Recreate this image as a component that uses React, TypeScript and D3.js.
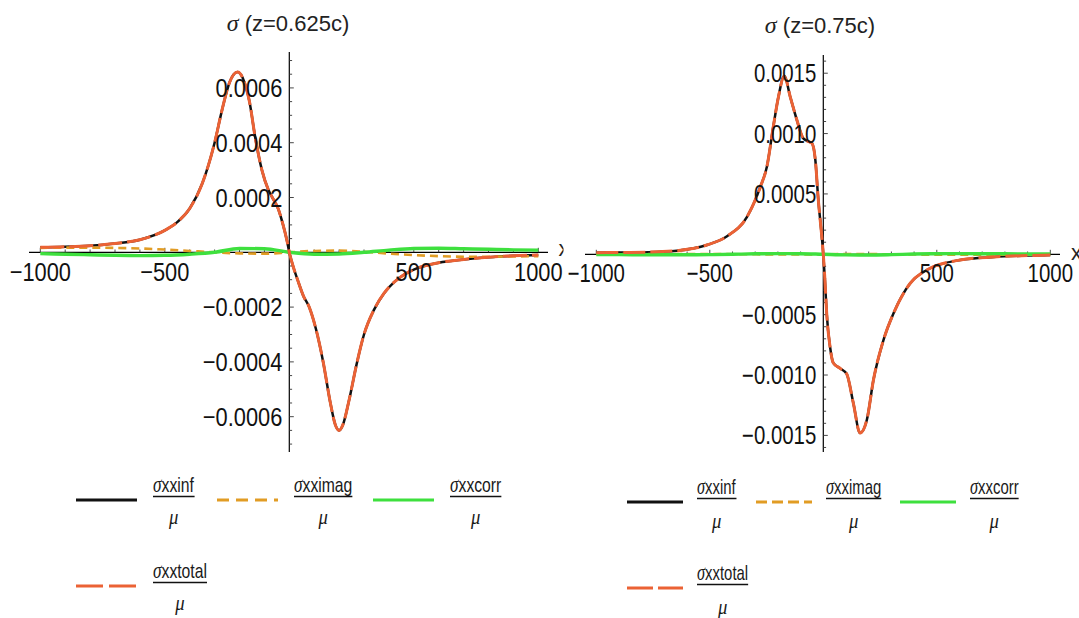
import React from 'react';
import * as d3 from 'd3';

// ---------- data ----------
const xGrid = [-1000, -900, -800, -700, -600, -500, -400, -300, -200, -100, 0, 100, 200, 300, 400, 500, 600, 700, 800, 900, 1000];

// Left panel: z = 0.625c
const xInfL = [-1000, -900, -800, -700, -600, -500, -450, -400, -350, -300, -270, -240, -208, -180, -160, -137, -110, -85, -65, -45, -25, -10, 0, 15, 35, 57, 80, 107, 136, 165, 185, 200, 215, 240, 270, 300, 340, 380, 420, 460, 500, 600, 700, 800, 900, 1000];
const infL = [1.8e-5, 2.0e-5, 2.4e-5, 3.2e-5, 4.6e-5, 8.0e-5, 1.1e-4, 1.6e-4, 2.5e-4, 4.0e-4, 5.2e-4, 6.2e-4, 6.58e-4, 6.2e-4, 5.5e-4, 4.2e-4, 3.0e-4, 2.3e-4, 1.95e-4, 1.6e-4, 1.0e-4, 4.5e-5, 0, -5e-5, -1.05e-4, -1.6e-4, -2.0e-4, -2.8e-4, -4.0e-4, -5.5e-4, -6.3e-4, -6.5e-4, -6.3e-4, -5.4e-4, -4.1e-4, -3.0e-4, -2.1e-4, -1.5e-4, -1.1e-4, -8.2e-5, -6.3e-5, -3.8e-5, -2.6e-5, -1.8e-5, -1.3e-5, -1.0e-5];
const totalL = [1.8e-5, 2.0e-5, 2.4e-5, 3.2e-5, 4.6e-5, 8.0e-5, 1.1e-4, 1.6e-4, 2.5e-4, 4.0e-4, 5.2e-4, 6.2e-4, 6.58e-4, 6.2e-4, 5.5e-4, 4.2e-4, 3.0e-4, 2.3e-4, 1.95e-4, 1.6e-4, 1.0e-4, 4.5e-5, 0, -5e-5, -1.05e-4, -1.6e-4, -2.0e-4, -2.8e-4, -4.0e-4, -5.5e-4, -6.3e-4, -6.5e-4, -6.3e-4, -5.4e-4, -4.1e-4, -3.0e-4, -2.1e-4, -1.5e-4, -1.1e-4, -8.2e-5, -6.3e-5, -3.8e-5, -2.6e-5, -1.8e-5, -1.3e-5, -1.0e-5];
const imagL = [1.6e-5, 1.7e-5, 1.7e-5, 1.6e-5, 1.4e-5, 1.0e-5, 5e-6, 0, -4e-6, -5e-6, 0, 5e-6, 6e-6, 2e-6, -5e-6, -1.0e-5, -1.4e-5, -1.6e-5, -1.6e-5, -1.5e-5, -1.4e-5];
const corrL = [-5e-6, -7e-6, -9e-6, -1.1e-5, -1.2e-5, -1.1e-5, -7e-6, 0, 1.4e-5, 1.3e-5, 0, -7e-6, -6e-6, 0, 8e-6, 1.4e-5, 1.5e-5, 1.3e-5, 1.1e-5, 9e-6, 8e-6];

// Right panel: z = 0.75c
const xInfR = [-1000, -900, -770, -645, -513, -424, -336, -277, -248, -220, -198, -172, -145, -116, -88, -60, -50, -35, -22, -8, 0, 7, 15, 30, 44, 74, 103, 132, 162, 192, 221, 265, 309, 383, 456, 603, 750, 900, 1000];
const infR = [1.3e-5, 1.5e-5, 1.8e-5, 3.0e-5, 7.7e-5, 1.5e-4, 3.1e-4, 5.6e-4, 7.3e-4, 1.06e-3, 1.3e-3, 1.477e-3, 1.3e-3, 1.11e-3, 9.6e-4, 9.3e-4, 9.2e-4, 7.8e-4, 4.5e-4, 1.75e-4, 0, -2.1e-4, -4.9e-4, -7.7e-4, -9.0e-4, -9.45e-4, -9.9e-4, -1.23e-3, -1.48e-3, -1.37e-3, -1.04e-3, -7.1e-4, -4.9e-4, -2.4e-4, -1.3e-4, -4.7e-5, -2.2e-5, -1.0e-5, -6e-6];
const totalR = [1.3e-5, 1.5e-5, 1.8e-5, 3.0e-5, 7.7e-5, 1.5e-4, 3.1e-4, 5.6e-4, 7.3e-4, 1.06e-3, 1.3e-3, 1.477e-3, 1.3e-3, 1.11e-3, 9.6e-4, 9.3e-4, 9.2e-4, 7.8e-4, 4.5e-4, 1.75e-4, 0, -2.1e-4, -4.9e-4, -7.7e-4, -9.0e-4, -9.45e-4, -9.9e-4, -1.23e-3, -1.48e-3, -1.37e-3, -1.04e-3, -7.1e-4, -4.9e-4, -2.4e-4, -1.3e-4, -4.7e-5, -2.2e-5, -1.0e-5, -6e-6];
const imagR = [3e-6, 3e-6, 3e-6, 3e-6, 3e-6, 2e-6, 1e-6, 0, -2e-6, -2e-6, 0, 2e-6, 2e-6, 0, -2e-6, -3e-6, -3e-6, -3e-6, -3e-6, -3e-6, -3e-6];
const corrR = [-2e-6, -3e-6, -4e-6, -4e-6, -4e-6, -3e-6, 0, 4e-6, 6e-6, 5e-6, 0, -5e-6, -6e-6, -3e-6, 2e-6, 5e-6, 6e-6, 5e-6, 4e-6, 3e-6, 3e-6];

// ticks & labels
const xTicks = [-1000, -500, 500, 1000];
const xTickLabels = ['\u22121000', '\u2212500', '500', '1000'];
const yTicksL = [-0.0006, -0.0004, -0.0002, 0.0002, 0.0004, 0.0006];
const yTickLabelsL = ['\u22120.0006', '\u22120.0004', '\u22120.0002', '0.0002', '0.0004', '0.0006'];
const yTicksR = [-0.0015, -0.001, -0.0005, 0.0005, 0.001, 0.0015];
const yTickLabelsR = ['\u22120.0015', '\u22120.0010', '\u22120.0005', '0.0005', '0.0010', '0.0015'];
const titlesText = ['(z=0.625c)', '(z=0.75c)'];
const legendNames = ['xxinf', 'xximag', 'xxcorr', 'xxtotal'];
const seriesColors = ['#111111', '#E19C24', '#3EE03E', '#EB6235'];

// ---------- layout ----------
const SANS = "'Liberation Sans', Arial, sans-serif";
const SERIF = "'Liberation Serif', 'Times New Roman', serif";

const panels = [
  {
    id: 'L', title: titlesText[0], titleX: 288, titleY: 31,
    xRange: [40.3, 538.3], yDomain: [-0.00073, 0.00073], yRange: [452.3, 52.3],
    xAxisExt: [29, 548], yAxisExt: [52, 452], yMinor: 0.00005, yMajor: 0.0002,
    yTicks: yTicksL, yLabels: yTickLabelsL, tickFont: 26, tickSX: 0.84, xLabelY: 281,
    clip: [0, 563.5], xLetter: [558.5, 256],
    xInf: xInfL, inf: infL, total: totalL, imag: imagL, corr: corrL,
    legendSlots: [[76, 500], [217, 500], [373, 500], [76, 586]], legendLen: 61, legendGap: 16,
    legendDash: [null, '12,7', null, '27,6'], legendSX: 0.75, muDy: 27,
    plotDash: ['', '8,5', '', '24,5'],
  },
  {
    id: 'R', title: titlesText[1], titleX: 820, titleY: 33,
    xRange: [596.3, 1050.3], yDomain: [-0.00165, 0.00165], yRange: [453.5, 55.1],
    xAxisExt: [585, 1060], yAxisExt: [55, 452], yMinor: 0.0001, yMajor: 0.0005,
    yTicks: yTicksR, yLabels: yTickLabelsR, tickFont: 25.5, tickSX: 0.8, xLabelY: 282,
    clip: [562, 1079], xLetter: [1071, 260],
    xInf: xInfR, inf: infR, total: totalR, imag: imagR, corr: corrR,
    legendSlots: [[627, 502], [756, 502], [900, 502], [627, 588]], legendLen: 56, legendGap: 14,
    legendDash: [null, '11,5', null, '26,5'], legendSX: 0.71, muDy: 29,
    plotDash: ['', '8,5', '', '22,5'],
  },
];

function drawPanel(svg: any, p: any) {
  const clipId = 'clip' + p.id;
  svg.append('defs').append('clipPath').attr('id', clipId)
    .append('rect').attr('x', p.clip[0]).attr('y', 0).attr('width', p.clip[1] - p.clip[0]).attr('height', 618);
  const g = svg.append('g').attr('clip-path', `url(#${clipId})`);

  const x = d3.scaleLinear().domain([-1000, 1000]).range(p.xRange);
  const y = d3.scaleLinear().domain(p.yDomain).range(p.yRange);
  const y0 = y(0), x0 = x(0);

  // axes
  g.append('line').attr('x1', p.xAxisExt[0]).attr('x2', p.xAxisExt[1]).attr('y1', y0).attr('y2', y0)
    .attr('stroke', '#000').attr('stroke-width', 1.2);
  g.append('line').attr('x1', x0).attr('x2', x0).attr('y1', p.yAxisExt[0]).attr('y2', p.yAxisExt[1])
    .attr('stroke', '#000').attr('stroke-width', 1.2);

  // x ticks
  d3.range(-1000, 1001, 100).forEach((v: number) => {
    if (v === 0) return;
    const major = v % 500 === 0;
    g.append('line').attr('x1', x(v)).attr('x2', x(v)).attr('y1', y0).attr('y2', y0 - (major ? 4.5 : 2.8))
      .attr('stroke', '#333').attr('stroke-width', 0.9);
  });
  // y ticks
  const n0 = Math.ceil(p.yDomain[0] / p.yMinor + 1e-9), n1 = Math.floor(p.yDomain[1] / p.yMinor - 1e-9);
  for (let i = n0; i <= n1; i++) {
    if (i === 0) continue;
    const v = i * p.yMinor;
    const r = v / p.yMajor;
    const major = Math.abs(r - Math.round(r)) < 1e-6;
    g.append('line').attr('x1', x0).attr('x2', x0 + (major ? 4.5 : 2.8)).attr('y1', y(v)).attr('y2', y(v))
      .attr('stroke', '#333').attr('stroke-width', 0.9);
  }

  // curves
  const line = d3.line<[number, number]>().x(d => x(d[0])).y(d => y(d[1])).curve(d3.curveMonotoneX);
  const infPts = p.xInf.map((xv: number, i: number) => [xv, p.inf[i]]);
  const totPts = p.xInf.map((xv: number, i: number) => [xv, p.total[i]]);
  const imagPts = xGrid.map((xv, i) => [xv, p.imag[i]]);
  const corrPts = xGrid.map((xv, i) => [xv, p.corr[i]]);
  g.append('path').attr('d', line(infPts)).attr('fill', 'none').attr('stroke', seriesColors[0]).attr('stroke-width', 2.5);
  g.append('path').attr('d', line(imagPts)).attr('fill', 'none').attr('stroke', seriesColors[1]).attr('stroke-width', 2.6)
    .attr('stroke-dasharray', p.plotDash[1]);
  g.append('path').attr('d', line(corrPts)).attr('fill', 'none').attr('stroke', seriesColors[2]).attr('stroke-width', 3.4);
  g.append('path').attr('d', line(totPts)).attr('fill', 'none').attr('stroke', seriesColors[3]).attr('stroke-width', 3)
    .attr('stroke-dasharray', p.plotDash[3]);

  // tick labels (drawn over curves, as in the reference)
  const condensed = (xx: number, yy: number, txt: string, anchor: string, size: number, sx: number) => {
    g.append('g').attr('transform', `translate(${xx},${yy}) scale(${sx},1)`)
      .append('text').attr('x', 0).attr('y', 0).attr('text-anchor', anchor)
      .attr('font-family', SANS).attr('font-size', size).attr('fill', '#111').text(txt);
  };
  xTicks.forEach((v, i) => condensed(x(v), p.xLabelY, xTickLabels[i], 'middle', p.tickFont, p.tickSX));
  p.yTicks.forEach((v: number, i: number) => condensed(x0 - 7, y(v) + 9, p.yLabels[i], 'end', p.tickFont, p.tickSX));

  // partial axis letter (cut off by the panel edge, as in the reference)
  g.append('text').attr('x', p.xLetter[0]).attr('y', p.xLetter[1]).attr('font-family', SANS)
    .attr('font-size', 22).attr('fill', '#222').text('x');

  // title
  const t = g.append('text').attr('x', p.titleX).attr('y', p.titleY).attr('text-anchor', 'middle')
    .attr('font-family', SANS).attr('font-size', 22).attr('fill', '#222');
  t.append('tspan').attr('font-family', SERIF).attr('font-style', 'italic').attr('font-size', 24).text('σ');
  t.append('tspan').text(' ' + p.title);

  // legend
  legendNames.forEach((name, i) => {
    const [lx, ly] = p.legendSlots[i];
    const ln = g.append('line').attr('x1', lx).attr('x2', lx + p.legendLen).attr('y1', ly).attr('y2', ly)
      .attr('stroke', seriesColors[i]).attr('stroke-width', 3.2);
    if (p.legendDash[i]) ln.attr('stroke-dasharray', p.legendDash[i]);
    const tx = lx + p.legendLen + p.legendGap;
    const barY = ly - 3.5;
    const ng = g.append('g').attr('transform', `translate(${tx},${barY - 4.5}) scale(${p.legendSX},1)`);
    const nt = ng.append('text').attr('x', 0).attr('y', 0).attr('font-family', SANS).attr('font-size', 21).attr('fill', '#1a1a1a');
    nt.append('tspan').attr('font-family', SERIF).attr('font-style', 'italic').attr('font-size', 23).text('σ');
    nt.append('tspan').text(name);
    let w = 40;
    try { w = (nt.node() as SVGTextElement).getBBox().width * p.legendSX; } catch (e) { /* ignore */ }
    g.append('line').attr('x1', tx).attr('x2', tx + w).attr('y1', barY).attr('y2', barY)
      .attr('stroke', '#111').attr('stroke-width', 1.7);
    g.append('g').attr('transform', `translate(${tx + w / 2},${barY + p.muDy}) scale(0.85,1)`)
      .append('text').attr('text-anchor', 'middle').attr('font-family', SERIF).attr('font-style', 'italic')
      .attr('font-size', 22).attr('fill', '#1a1a1a').text('μ');
  });
}

export default function App() {
  const ref = React.useRef<SVGSVGElement>(null);
  React.useEffect(() => {
    const svg = d3.select(ref.current);
    svg.selectAll('*').remove();
    panels.forEach(p => drawPanel(svg, p));
  }, []);
  return (
    <svg ref={ref} width={1079} height={618}
      style={{ position: 'absolute', left: 0, top: 0, background: '#ffffff' }} />
  );
}
